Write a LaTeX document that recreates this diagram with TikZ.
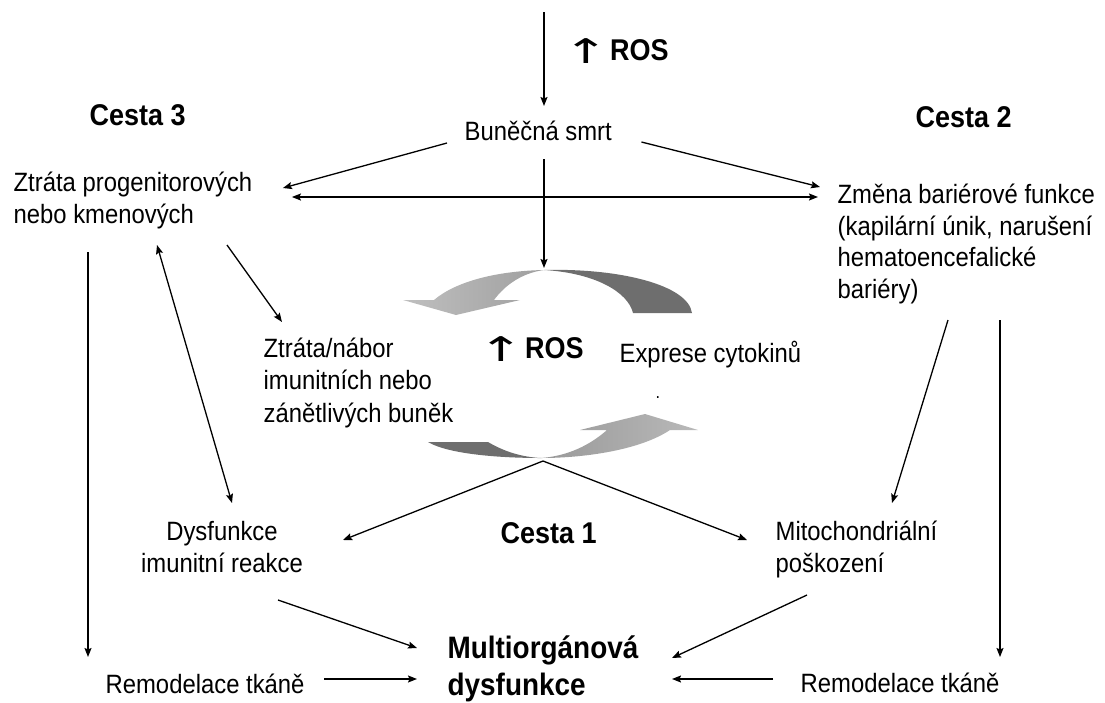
\documentclass[tikz,border=0pt]{standalone}
\usepackage{fontspec}
\setmainfont{Liberation Sans}[FakeStretch=0.9]
\newfontfamily\arrowfont{DejaVu Sans}
\usepackage{graphicx}
\usepackage{tikz}
\usetikzlibrary{arrows.meta}

\tikzset{
	txt/.style={inner sep=0pt, anchor=base west, align=left, font=\fontsize{26.5}{31.5}\selectfont},
	ctxt/.style={txt, anchor=base, align=center},
	head/.style={inner sep=0pt, anchor=base west, align=left, font=\fontsize{30}{36}\selectfont\bfseries},
	piece/.style={draw=black, line width=0.7pt}
}
\newcommand{\uparr}{\raisebox{-3pt}{\scalebox{1.6}[1]{\arrowfont\mdseries\fontsize{34}{34}\selectfont ↑}}\hspace{1pt}}

\begin{document}
\begin{tikzpicture}[x=1pt, y=-1pt, line width=1.3pt]
	\useasboundingbox (0,0) rectangle (1105,702);

	\node[head] (ros1) at (563,60) {\uparr ROS};
	\node[txt] (smrt) at (464,140) {Buněčná smrt};
	\node[head] (cesta3) at (89,125) {Cesta 3};
	\node[head] (cesta2) at (915,127) {Cesta 2};
	\node[txt] (prog) at (13,223) {Ztráta progenitorových\\nebo kmenových};
	\node[txt] (bar) at (837,298) {Změna bariérové funkce\\(kapilární únik, narušení\\hematoencefalické\\bariéry)};
	\node[txt, font=\fontsize{26.5}{32.5}\selectfont] (nabor) at (263,422) {Ztráta/nábor\\imunitních nebo\\zánětlivých buněk};
	\node[head] (ros2) at (478,358) {\uparr ROS};
	\node[txt] (cyto) at (619,362) {Exprese cytokinů};
	\node[txt, font=\fontsize{18}{20}\selectfont] (tecka) at (655,398) {.};
	\node[ctxt, font=\fontsize{26.5}{32}\selectfont] (dys) at (222,572) {Dysfunkce\\imunitní reakce};
	\node[txt, font=\fontsize{26.5}{32}\selectfont] (mito) at (775,572) {Mitochondriální\\poškození};
	\node[head] (cesta1) at (500,543) {Cesta 1};
	\node[head, font=\fontsize{31}{37}\selectfont\bfseries] (multi) at (447,695) {Multiorgánová\\dysfunkce};
	\node[txt] (remL) at (105,693) {Remodelace tkáně};
	\node[txt] (remR) at (800,692) {Remodelace tkáně};

	\coordinate (src) at (544,12);
	\coordinate (ctop) at (544,268);
	\coordinate (cbot) at (543,461);

	\begin{scope}[piece]
		\path[left color=gray!50, right color=gray!75]
			(544,270) .. controls (495,271) and (455,282) .. (434,300) -- (403,300) -- (456,315)
			-- (520,300) -- (494,300) .. controls (505,285) and (522,273) .. (544,270) -- cycle;
		\path[fill=black!57]
			(544,270) .. controls (620,268) and (688,285) .. (692,313) -- (633,313)
			.. controls (628,292) and (595,273) .. (544,270) -- cycle;
		\path[fill=black!57]
			(428,442) -- (488,442) .. controls (505,452) and (522,457) .. (541,458)
			.. controls (505,458) and (450,455) .. (428,442) -- cycle;
		\path[left color=gray!80, right color=gray!55]
			(541,458) .. controls (585,458) and (640,450) .. (670,430) -- (698,430) -- (645,414)
			-- (580,430) -- (607,430) .. controls (590,445) and (568,456) .. (541,458) -- cycle;
	\end{scope}

	\begin{scope}[>={Stealth[length=9pt,width=7pt,inset=1.5pt]}]
		\draw[->] (src) -- ([shift={(80,-34)}]smrt.base west);
		\draw[->] ([shift={(-17,3)}]smrt.base west) -- ([shift={(30,-35)}]prog.base east);
		\draw[->] ([shift={(29,2)}]smrt.base east) -- ([shift={(-17,-111)}]bar.base west);
		\draw[<->] ([shift={(39,-26)}]prog.base east) -- ([shift={(-19,-101)}]bar.base west);
		\draw[->] ([shift={(80,19)}]smrt.base west) -- (ctop);
		\draw[->] ([shift={(75,29)}]prog.base west) -- ([shift={(-17,-36)}]remL.base west);
		\draw[<->] ([shift={(144,22)}]prog.base west) -- ([shift={(10,-69)}]dys.base);
		\draw[->] ([shift={(214,22)}]prog.base west) -- ([shift={(19,-100)}]nabor.base west);
		\draw[->] ([shift={(111,22)}]bar.base west) -- ([shift={(117,-69)}]mito.base west);
		\draw[->] ([shift={(163,22)}]bar.base west) -- ([shift={(200,-35)}]remR.base west);
		\draw[->] (cbot) -- ([shift={(121,-32)}]dys.base);
		\draw[->] (cbot) -- ([shift={(-28,-32)}]mito.base west);
		\draw[->] ([shift={(56,28)}]dys.base) -- ([shift={(-30,-47)}]multi.base west);
		\draw[->] ([shift={(32,23)}]mito.base west) -- ([shift={(225,-37)}]multi.base west);
		\draw[->] ([shift={(19,-14)}]remL.base east) -- ([shift={(-30,-16)}]multi.base west);
		\draw[->] ([shift={(-27,-13)}]remR.base west) -- ([shift={(225,-16)}]multi.base west);
	\end{scope}
\end{tikzpicture}
\end{document}
